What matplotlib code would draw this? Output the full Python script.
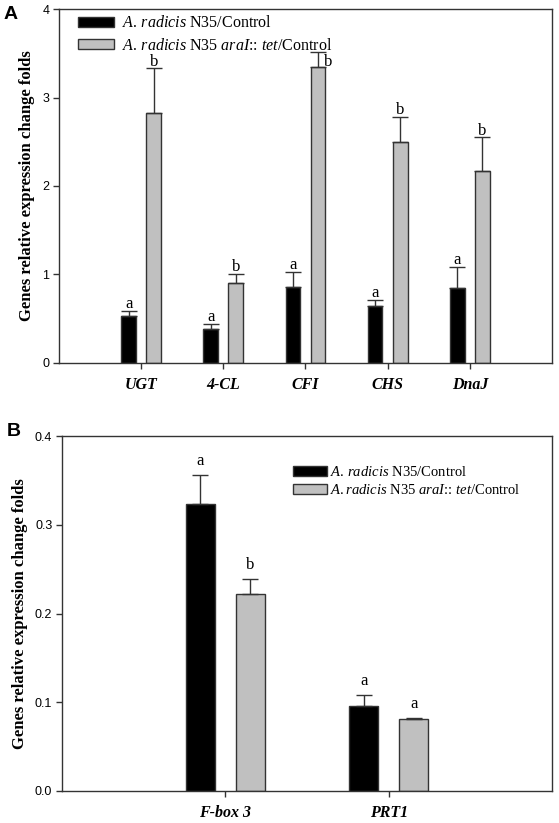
import numpy as np
import matplotlib
matplotlib.use("Agg")
import matplotlib.pyplot as plt

plt.rcParams["font.family"] = "Liberation Serif"
plt.rcParams["mathtext.fontset"] = "custom"
plt.rcParams["mathtext.rm"] = "Liberation Serif"
plt.rcParams["mathtext.it"] = "Liberation Serif:italic"

# Panel A data
genes_a = ["UGT", "4-CL", "CFI", "CHS", "DnaJ"]
n35_a = [0.53, 0.38, 0.86, 0.64, 0.85]
n35_err_a = [0.06, 0.06, 0.17, 0.07, 0.24]
mut_a = [2.83, 0.90, 3.34, 2.50, 2.17]
mut_err_a = [0.50, 0.11, 0.17, 0.28, 0.38]
n35_sig_a = ["a", "a", "a", "a", "a"]
mut_sig_a = ["b", "b", "b", "b", "b"]

# Panel B data
genes_b = ["F-box 3", "PRT1"]
n35_b = [0.323, 0.0955]
n35_err_b = [0.033, 0.0125]
mut_b = [0.222, 0.0815]
mut_err_b = [0.017, 0.0012]
n35_sig_b = ["a", "a"]
mut_sig_b = ["b", "a"]

lab_n35 = r"$\mathit{A.\,radicis}$ N35/Control"
lab_mut_a = r"$\mathit{A.\,radicis}$ N35 $\mathit{araI}$:: $\mathit{tet}$/Control"
lab_mut_b = r"$\mathit{A.radicis}$ N35 $\mathit{araI}$:: $\mathit{tet}$/Control"

edge = "#333333"
gray = "#c0c0c0"


def panel(ax, genes, v1, e1, v2, e2, s1, s2, ylim, yticks, yfmt, lab2, sig_off):
    x = np.arange(1, len(genes) + 1)
    w, off = 0.18, 0.153
    ax.bar(x - off, v1, w, color="black", edgecolor=edge, linewidth=1,
           yerr=[np.zeros(len(e1)), e1], capsize=6,
           error_kw=dict(ecolor=edge, elinewidth=1, capthick=1), label=lab_n35)
    ax.bar(x + off, v2, w, color=gray, edgecolor=edge, linewidth=1,
           yerr=[np.zeros(len(e2)), e2], capsize=6,
           error_kw=dict(ecolor=edge, elinewidth=1, capthick=1), label=lab2)
    for i in range(len(genes)):
        ax.annotate(s1[i], (x[i] - off, v1[i] + e1[i]), xytext=(0, sig_off),
                    textcoords="offset points", ha="center", va="baseline", fontsize=12)
        ax.annotate(s2[i], (x[i] + off, v2[i] + e2[i]), xytext=(0, sig_off),
                    textcoords="offset points", ha="center", va="baseline", fontsize=12)
    ax.set_xlim(0, len(genes) + 1)
    ax.set_ylim(*ylim)
    ax.set_xticks(x)
    ax.set_xticklabels(genes, fontstyle="italic", fontweight="bold", fontsize=11.5)
    ax.set_yticks(yticks)
    ax.set_yticklabels([yfmt.format(t) for t in yticks], family="Liberation Sans", fontsize=9)
    ax.tick_params(axis="x", length=4, width=1, color=edge, pad=6)
    ax.tick_params(axis="y", length=4, width=1, color=edge, pad=3)
    for s in ax.spines.values():
        s.set_color(edge)
        s.set_linewidth(1)
    ax.set_ylabel("Genes relative expression change folds", fontweight="bold",
                  fontsize=12, labelpad=5)
    return ax


fig = plt.figure(figsize=(5.59, 8.23), dpi=100)

ax1 = fig.add_axes([0.1055, 0.559, 0.882, 0.430])
panel(ax1, genes_a, n35_a, n35_err_a, mut_a, mut_err_a, n35_sig_a, mut_sig_a,
      (0, 4), [0, 1, 2, 3, 4], "{:g}", lab_mut_a, 2)
# CFI 'b' letter sits beside the error bar in the original
ax1.texts[5].set_visible(False)
ax1.annotate("b", (3 + 0.153, mut_a[2] + mut_err_a[2]), xytext=(7, -10),
             textcoords="offset points", ha="center", va="baseline", fontsize=12)
ax1.legend(loc="upper left", frameon=False, fontsize=11.5, handlelength=2.3,
           handleheight=0.55, handletextpad=0.45, borderaxespad=0.0,
           labelspacing=0.4, bbox_to_anchor=(0.025, 1.0))

ax2 = fig.add_axes([0.111, 0.0389, 0.8766, 0.4313])
panel(ax2, genes_b, n35_b, n35_err_b, mut_b, mut_err_b, n35_sig_b, mut_sig_b,
      (0, 0.4), [0.0, 0.1, 0.2, 0.3, 0.4], "{:.1f}", lab_mut_b, 7)
ax2.legend(loc="upper left", frameon=False, fontsize=10.5, handlelength=2.3,
           handleheight=0.7, handletextpad=0.25, borderaxespad=0.0,
           labelspacing=0.3, bbox_to_anchor=(0.46, 0.935))

fig.text(0.006, 0.982, "A", family="Liberation Sans", fontweight="bold", fontsize=14,
         va="center")
fig.text(0.012, 0.476, "B", family="Liberation Sans", fontweight="bold", fontsize=14,
         va="center")

fig.savefig("out.png", dpi=100)
